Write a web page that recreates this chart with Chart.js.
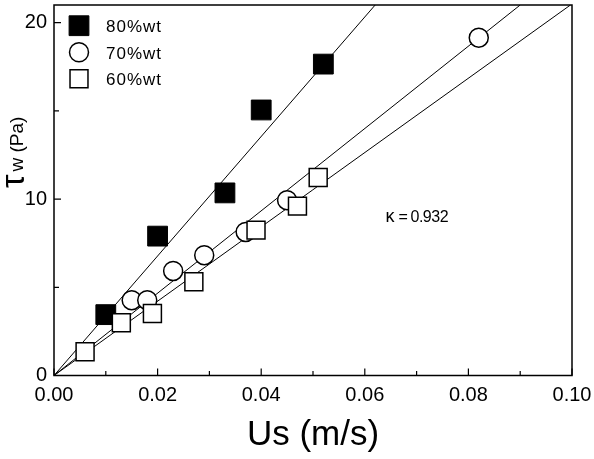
<!DOCTYPE html>
<html>
<head>
<meta charset="utf-8">
<script src="https://cdn.jsdelivr.net/npm/chart.js@4.4.0/dist/chart.umd.min.js"></script>
<style>
  body { margin: 0; background: #fff; }
  #wrap { width: 594px; height: 459px; }
</style>
</head>
<body>
<div id="wrap"><canvas id="tauChart"></canvas></div>
<script>
// wall shear stress vs superficial velocity, three concentrations
const us80 = [0.010, 0.020, 0.033, 0.040, 0.052];
const tau80 = [3.45, 7.9, 10.35, 15.05, 17.65];
const us70 = [0.015, 0.018, 0.023, 0.029, 0.037, 0.045, 0.082];
const tau70 = [4.27, 4.27, 5.93, 6.82, 8.14, 9.94, 19.15];
const us60 = [0.006, 0.013, 0.019, 0.027, 0.039, 0.047, 0.051];
const tau60 = [1.35, 2.99, 3.52, 5.31, 8.24, 9.6, 11.22];

// straight fits through the origin (end point where they leave the frame)
const fitUs80 = [0, 0.062];
const fitTau80 = [0, 21];
const fitUs70 = [0, 0.090];
const fitTau70 = [0, 21];
const fitUs60 = [0, 0.0997];
const fitTau60 = [0, 21];

const seriesLabels = ['80%wt', '70%wt', '60%wt'];
const xTicks = [0, 0.02, 0.04, 0.06, 0.08, 0.10];
const xMinorTicks = [0.01, 0.03, 0.05, 0.07, 0.09];
const yTicks = [0, 10, 20];
const yMinorTicks = [5, 15];
const kappaSymbol = 'κ';
const kappaValue = '0.932';
const kappaAt = [0.064, 8.7];

const FONT = "'Liberation Sans', Arial, sans-serif";

function pts(xs, ys) {
	return xs.map(function (x, i) { return { x: x, y: ys[i] }; });
}

function drawMarker(ctx, ds, x, y) {
	ctx.save();
	ctx.beginPath();
	if (ds.pointStyle === 'rect') {
		var s = Math.SQRT1_2 * ds.pointRadius;
		ctx.rect(x - s, y - s, 2 * s, 2 * s);
	} else {
		ctx.arc(x, y, ds.pointRadius, 0, Math.PI * 2);
	}
	ctx.fillStyle = ds.backgroundColor;
	ctx.fill();
	ctx.lineWidth = ds.borderWidth;
	ctx.strokeStyle = ds.borderColor;
	ctx.stroke();
	ctx.restore();
}

// frame, inward ticks, legend, y title and the kappa note
const decorations = {
	id: 'decorations',
	afterDraw: function (chart) {
		var ctx = chart.ctx;
		var a = chart.chartArea;
		var xs = chart.scales.x, ys = chart.scales.y;

		ctx.save();
		ctx.strokeStyle = '#000';
		ctx.lineWidth = 1.5;
		ctx.strokeRect(a.left, a.top, a.right - a.left, a.bottom - a.top);

		ctx.lineWidth = 1.2;
		ctx.beginPath();
		xTicks.forEach(function (v) {
			var px = xs.getPixelForValue(v);
			ctx.moveTo(px, a.bottom); ctx.lineTo(px, a.bottom - 7);
		});
		xMinorTicks.forEach(function (v) {
			var px = xs.getPixelForValue(v);
			ctx.moveTo(px, a.bottom); ctx.lineTo(px, a.bottom - 4.5);
		});
		yTicks.forEach(function (v) {
			var py = ys.getPixelForValue(v);
			ctx.moveTo(a.left, py); ctx.lineTo(a.left + 7, py);
		});
		yMinorTicks.forEach(function (v) {
			var py = ys.getPixelForValue(v);
			ctx.moveTo(a.left, py); ctx.lineTo(a.left + 5, py);
		});
		ctx.stroke();

		// legend
		ctx.fillStyle = '#000';
		ctx.font = '17px ' + FONT;
		ctx.letterSpacing = '1px';
		ctx.textBaseline = 'middle';
		ctx.textAlign = 'left';
		seriesLabels.forEach(function (lab, i) {
			var ds = chart.data.datasets.find(function (d) { return d.label === lab; });
			var rowY = a.top + 20.7 + i * 26.5;
			drawMarker(ctx, ds, a.left + 25, rowY);
			ctx.fillStyle = '#000';
			ctx.fillText(lab, a.left + 52, rowY + 2);
		});
		ctx.letterSpacing = '0px';

		// kappa note
		var kx = xs.getPixelForValue(kappaAt[0]);
		var ky = ys.getPixelForValue(kappaAt[1]);
		ctx.textBaseline = 'alphabetic';
		ctx.font = '18px ' + FONT;
		ctx.fillText(kappaSymbol, kx, ky);
		ctx.font = '16px ' + FONT;
		ctx.fillText('=', kx + 13, ky);
		ctx.letterSpacing = '-0.5px';
		ctx.fillText(kappaValue, kx + 25, ky);
		ctx.letterSpacing = '0px';

		// y axis title: tau with small "w (Pa)"
		ctx.translate(24, 188);
		ctx.rotate(-Math.PI / 2);
		ctx.font = '34px ' + FONT;
		ctx.fillText('τ', 0, 0);
		var tw = ctx.measureText('τ').width;
		ctx.font = '19px ' + FONT;
		ctx.fillText('w (Pa)', tw + 3, -1);
		ctx.restore();
	}
};

const ctx = document.getElementById('tauChart').getContext('2d');

new Chart(ctx, {
	type: 'scatter',
	data: {
		datasets: [
			{
				label: '80%wt',
				data: pts(us80, tau80),
				pointStyle: 'rect',
				pointRadius: 14,
				backgroundColor: '#000',
				borderColor: '#000',
				borderWidth: 1,
				order: 2
			},
			{
				label: '70%wt',
				data: pts(us70, tau70),
				pointStyle: 'circle',
				pointRadius: 9.5,
				backgroundColor: '#fff',
				borderColor: '#000',
				borderWidth: 1.5,
				order: 1
			},
			{
				label: '60%wt',
				data: pts(us60, tau60),
				pointStyle: 'rect',
				pointRadius: 12.7,
				backgroundColor: '#fff',
				borderColor: '#000',
				borderWidth: 1.5,
				order: 0
			},
			{ data: pts(fitUs80, fitTau80), showLine: true, pointRadius: 0, borderColor: '#000', borderWidth: 1, order: 3 },
			{ data: pts(fitUs70, fitTau70), showLine: true, pointRadius: 0, borderColor: '#000', borderWidth: 1, order: 3 },
			{ data: pts(fitUs60, fitTau60), showLine: true, pointRadius: 0, borderColor: '#000', borderWidth: 1, order: 3 }
		]
	},
	options: {
		responsive: true,
		maintainAspectRatio: false,
		animation: false,
		events: [],
		layout: { autoPadding: false, padding: { top: 5, right: 22, left: 0, bottom: 0 } },
		plugins: {
			legend: { display: false },
			tooltip: { enabled: false }
		},
		scales: {
			x: {
				type: 'linear',
				min: 0,
				max: 0.1,
				afterBuildTicks: function (scale) {
					scale.ticks = xTicks.map(function (v) { return { value: v }; });
				},
				afterFit: function (scale) {
					scale.height = 83.5;
					scale.paddingLeft = 0;
					scale.paddingRight = 0;
				},
				grid: { display: false, drawTicks: false },
				border: { display: false },
				ticks: {
					padding: 8,
					color: '#000',
					font: { family: FONT, size: 20 },
					maxRotation: 0,
					callback: function (v) { return Number(v).toFixed(2); }
				},
				title: {
					display: true,
					text: 'Us (m/s)',
					color: '#000',
					font: { family: FONT, size: 35 },
					padding: { top: 0, bottom: 3 }
				}
			},
			y: {
				type: 'linear',
				min: 0,
				max: 21,
				afterBuildTicks: function (scale) {
					scale.ticks = yTicks.map(function (v) { return { value: v }; });
				},
				afterFit: function (scale) {
					scale.width = 54;
					scale.paddingTop = 0;
					scale.paddingBottom = 0;
				},
				grid: { display: false, drawTicks: false },
				border: { display: false },
				ticks: {
					padding: 7,
					color: '#000',
					font: { family: FONT, size: 20 }
				}
			}
		}
	},
	plugins: [decorations]
});
</script>
</body>
</html>
